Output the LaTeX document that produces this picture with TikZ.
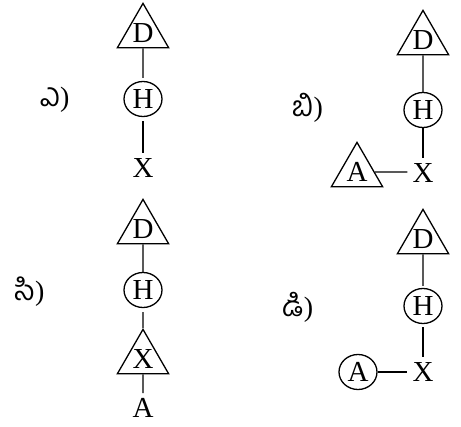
\documentclass[tikz,border=0pt]{standalone}
\usepackage{fontspec}
\setmainfont{Liberation Serif}
\newfontfamily\telugufont[Script=Telugu]{Hind Guntur}
\usetikzlibrary{shapes.geometric}
\usetikzlibrary{positioning}
\tikzset{
  % plain atom letter
  atom/.style = {
    font = \fontsize{29}{34}\selectfont,
    inner sep = 5pt
  },
  % atom in a triangle
  tri/.style = {
    atom,
    draw = black,
    line width = 1.3pt,
    regular polygon,
    regular polygon sides = 3,
    minimum size = 58pt,
    inner sep = 0pt
  },
  % atom in a circle
  ring/.style = {
    atom,
    draw = black,
    line width = 1.3pt,
    ellipse,
    minimum width = 38pt,
    minimum height = 35pt,
    inner sep = 0pt
  },
  bond/.style = {
    draw = black,
    line width = 1.3pt
  },
  % option label
  tag/.style = {
    font = \fontsize{28}{32}\selectfont
  }
}

\begin{document}
\begin{tikzpicture}[x=1pt, y=-1pt]
    \useasboundingbox (0,0) rectangle (461,427);

    % option a
    \node[tag] (tag-a) at (55,100) {{\telugufont ఎ})};
    \node[tri] (a-D) at (143,33) {D};
    \node[ring] (a-H) at (143,99) {H};
    \node[atom] (a-X) at (143,168) {X};
    \draw [bond, shorten >=3pt] (a-D) -- (a-H);
    \draw [bond, shorten <=4pt] (a-H) -- (a-X);

    % option b
    \node[tag] (tag-b) at (308,108) {{\telugufont బి})};
    \node[tri] (b-D) at (423,40) {D};
    \node[ring] (b-H) at (423,110) {H};
    \node[atom] (b-X) at (423,173) {X};
    \node[tri] (b-A) at (357,172) {A};
    \draw [bond] (b-D) -- (b-H);
    \draw [bond] (b-H) -- (b-X);
    \draw [bond] (b-A) -- (b-A -| b-X.west);

    % option c
    \node[tag] (tag-c) at (30,292) {{\telugufont సి})};
    \node[tri] (c-D) at (143,229) {D};
    \node[ring] (c-H) at (143,290) {H};
    \node[tri] (c-X) at (143,359) {X};
    \node[atom] (c-A) at (143,408) {A};
    \draw [bond] (c-D) -- (c-H);
    \draw [bond, shorten <=4pt] (c-H) -- (c-X);
    \draw [bond] (c-X) -- (c-A);

    % option d
    \node[tag] (tag-d) at (298,307) {{\telugufont డి})};
    \node[tri] (d-D) at (423,239) {D};
    \node[ring] (d-H) at (423,306) {H};
    \node[atom] (d-X) at (423,372) {X};
    \node[ring] (d-A) at (358,372) {A};
    \draw [bond, shorten >=2pt] (d-D) -- (d-H);
    \draw [bond, shorten <=3pt] (d-H) -- (d-X);
    \draw [bond] (d-A) -- (d-X);
\end{tikzpicture}
\end{document}
